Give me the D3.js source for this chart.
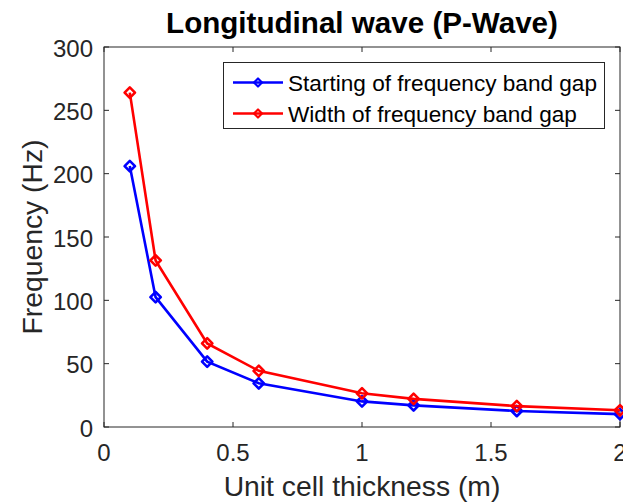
<!DOCTYPE html>
<html><head><meta charset="utf-8">
<script src="https://cdn.jsdelivr.net/npm/d3@7"></script>
<style>body{margin:0;background:#fff}svg{display:block}text{font-family:"Liberation Sans",Arial,sans-serif;fill:#262626}</style>
</head><body><div id="c"></div>
<script>
const thickness = [0.1, 0.2, 0.4, 0.6, 1.0, 1.2, 1.6, 2.0];
const startGap = [206, 102.5, 51.6, 34.5, 20.2, 17.1, 12.6, 10.2];
const widthGap = [264, 131.5, 66, 44.3, 26.6, 22.2, 16.5, 13.2];
const xTicks = [0, 0.5, 1, 1.5, 2];
const yTicks = [0, 50, 100, 150, 200, 250, 300];
const seriesNames = ["Starting of frequency band gap", "Width of frequency band gap"];
const seriesColors = ["#0000ff", "#ff0000"];

const W = 623, H = 502;
const m = {l:104, r:W-620, t:47, b:H-427};
const svg = d3.select("#c").append("svg").attr("width", W).attr("height", H);
const x = d3.scaleLinear().domain([0, 2]).range([m.l, W-m.r]);
const y = d3.scaleLinear().domain([0, 300]).range([H-m.b, m.t]);
const ax = "#262626";

svg.append("rect").attr("x", x(0)).attr("y", y(300)).attr("width", x(2)-x(0)).attr("height", y(0)-y(300))
  .attr("fill", "none").attr("stroke", ax).attr("stroke-width", 1);

const tl = 5;
const gx = svg.append("g");
xTicks.forEach(v => {
  gx.append("line").attr("x1", x(v)).attr("x2", x(v)).attr("y1", y(0)).attr("y2", y(0)-tl).attr("stroke", ax);
  gx.append("line").attr("x1", x(v)).attr("x2", x(v)).attr("y1", y(300)).attr("y2", y(300)+tl).attr("stroke", ax);
  gx.append("text").attr("x", x(v)).attr("y", y(0)+34).attr("text-anchor", "middle").attr("font-size", 24).text(d3.format("")(v));
});
yTicks.forEach(v => {
  gx.append("line").attr("x1", x(0)).attr("x2", x(0)+tl).attr("y1", y(v)).attr("y2", y(v)).attr("stroke", ax);
  gx.append("line").attr("x1", x(2)).attr("x2", x(2)-tl).attr("y1", y(v)).attr("y2", y(v)).attr("stroke", ax);
  gx.append("text").attr("x", x(0)-11).attr("y", y(v)+9.5).attr("text-anchor", "end").attr("font-size", 24).text(v);
});

svg.append("text").attr("x", (x(0)+x(2))/2).attr("y", 496).attr("text-anchor", "middle").attr("font-size", 28.3).text("Unit cell thickness (m)");
svg.append("text").attr("transform", `translate(42,${(y(0)+y(300))/2}) rotate(-90)`).attr("text-anchor", "middle").attr("font-size", 28.3).text("Frequency (Hz)");
svg.append("text").attr("x", (x(0)+x(2))/2).attr("y", 33).attr("text-anchor", "middle").attr("font-size", 29.6).attr("font-weight", "bold").style("fill", "#000").text("Longitudinal wave (P-Wave)");

const diamond = (cx, cy, s) => `M${cx},${cy-s}L${cx+s},${cy}L${cx},${cy+s}L${cx-s},${cy}Z`;
const line = d3.line().x(d => x(d[0])).y(d => y(d[1]));
[startGap, widthGap].forEach((vals, i) => {
  const pts = thickness.map((t, j) => [t, vals[j]]);
  const g = svg.append("g");
  g.append("path").attr("d", line(pts)).attr("fill", "none").attr("stroke", seriesColors[i]).attr("stroke-width", 2.6);
  pts.forEach(p => g.append("path").attr("d", diamond(x(p[0]), y(p[1]), 5.2)).attr("fill", "none").attr("stroke", seriesColors[i]).attr("stroke-width", 2.6).attr("stroke-linejoin", "round"));
});

const lg = svg.append("g");
lg.append("rect").attr("x", 223.5).attr("y", 62.5).attr("width", 381).attr("height", 66).attr("fill", "#fff").attr("stroke", ax);
seriesNames.forEach((n, i) => {
  const yy = 82.5 + i*31;
  lg.append("line").attr("x1", 233).attr("x2", 283).attr("y1", yy).attr("y2", yy).attr("stroke", seriesColors[i]).attr("stroke-width", 2.6);
  lg.append("path").attr("d", diamond(258, yy, 4)).attr("fill", "none").attr("stroke", seriesColors[i]).attr("stroke-width", 2.2).attr("stroke-linejoin", "round");
  lg.append("text").attr("x", 288).attr("y", yy+8).attr("font-size", 22.6).style("fill", "#000").text(n);
});
</script></body></html>
